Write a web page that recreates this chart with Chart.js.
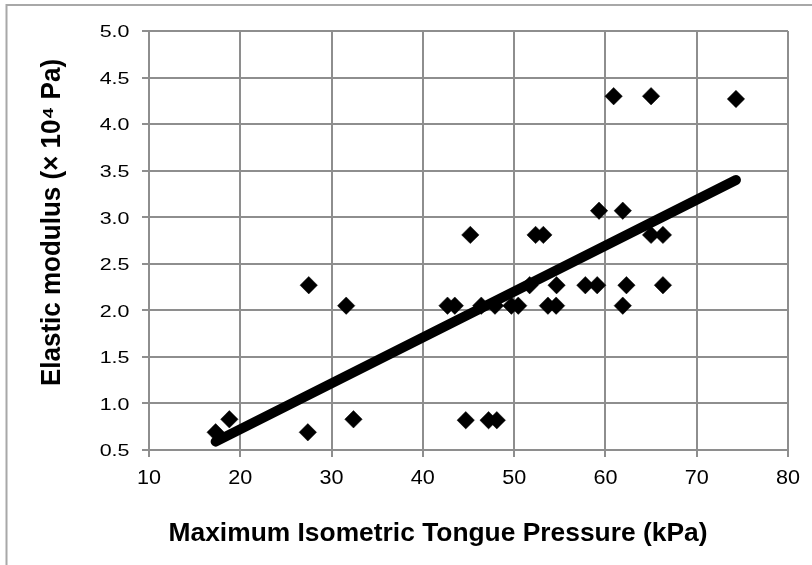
<!DOCTYPE html>
<html>
<head>
<meta charset="utf-8">
<script src="https://cdn.jsdelivr.net/npm/chart.js@4.4.1/dist/chart.umd.min.js"></script>
<style>
html,body{margin:0;padding:0;background:#fff;}
#wrap{width:812px;height:565px;position:relative;overflow:hidden;}
canvas{display:block;}
</style>
</head>
<body>
<div id="wrap"><canvas id="c" width="812" height="565" style="width:812px;height:565px;"></canvas></div>
<script>
// ---- data ----
const pressureKPa = [17.3, 18.8, 27.4, 27.5, 31.6, 32.4, 42.7, 43.5, 44.7, 45.2, 46.4, 47.2, 47.9, 48.1, 49.7, 50.45, 51.7, 52.35, 53.2, 53.7, 54.6, 54.65, 57.8, 59.1, 59.3, 60.9, 61.9, 61.9, 62.3, 65.0, 65.0, 66.3, 66.3, 74.3];
const elasticModulus = [0.69, 0.83, 0.69, 2.27, 2.05, 0.83, 2.05, 2.05, 0.82, 2.81, 2.05, 0.82, 2.05, 0.82, 2.05, 2.05, 2.27, 2.81, 2.81, 2.05, 2.05, 2.27, 2.27, 2.27, 3.07, 4.30, 3.07, 2.05, 2.27, 4.30, 2.81, 2.81, 2.27, 4.27];
const trendX = [17.3, 74.3];
const trendY = [0.59, 3.40];
const xTickLabels = ['10', '20', '30', '40', '50', '60', '70', '80'];
const yTickLabels = ['0.5', '1.0', '1.5', '2.0', '2.5', '3.0', '3.5', '4.0', '4.5', '5.0'];
const xTitle = 'Maximum Isometric Tongue Pressure (kPa)';
const yTitle = 'Elastic modulus (× 10⁴ Pa)';

const FONT = "'Liberation Sans', Arial, Helvetica, sans-serif";
const GRID = '#8e8e8e';

const scatterPts = pressureKPa.map((x, i) => ({x: x, y: elasticModulus[i]}));
const trendPts = trendX.map((x, i) => ({x: x, y: trendY[i]}));

const textPlugin = {
  id: 'texts',
  beforeDraw(chart) {
    const ctx = chart.ctx;
    ctx.save();
    ctx.strokeStyle = '#a8a8a8';
    ctx.lineWidth = 2;
    ctx.beginPath();
    ctx.moveTo(6.5, 900);
    ctx.lineTo(6.5, 5);
    ctx.lineTo(900, 5);
    ctx.stroke();
    ctx.restore();
  },
  afterDraw(chart) {
    const ctx = chart.ctx;
    const xs = chart.scales.x, ys = chart.scales.y;
    ctx.save();
    ctx.fillStyle = '#000';
    // y tick labels
    ctx.font = '16.5px ' + FONT;
    ctx.textAlign = 'right';
    ctx.textBaseline = 'alphabetic';
    yTickLabels.forEach(l => {
      const py = ys.getPixelForValue(parseFloat(l));
      ctx.save();
      ctx.translate(129.5, py + 6.3);
      ctx.scale(1.3, 1);
      ctx.fillText(l, 0, 0);
      ctx.restore();
    });
    // x tick labels
    ctx.font = '20px ' + FONT;
    ctx.textAlign = 'center';
    xTickLabels.forEach(l => {
      const px = xs.getPixelForValue(parseFloat(l));
      ctx.save();
      ctx.translate(px, 484);
      ctx.scale(1.08, 1);
      ctx.fillText(l, 0, 0);
      ctx.restore();
    });
    // x title
    ctx.font = 'bold 25px ' + FONT;
    ctx.save();
    ctx.translate(438, 541);
    ctx.scale(1.055, 1);
    ctx.fillText(xTitle, 0, 0);
    ctx.restore();
    // y title
    ctx.font = 'bold 26px ' + FONT;
    ctx.save();
    ctx.translate(60, 222.5);
    ctx.rotate(-Math.PI / 2);
    ctx.scale(1, 1.07);
    ctx.fillText(yTitle, 0, 0);
    ctx.restore();
    ctx.restore();
  }
};

new Chart(document.getElementById('c'), {
  type: 'scatter',
  data: {
    datasets: [
      {
        label: 'Trend',
        data: trendPts,
        showLine: true,
        borderColor: '#000',
        borderWidth: 10,
        borderCapStyle: 'round',
        pointRadius: 0,
        fill: false,
        order: 0
      },
      {
        label: 'Measured',
        data: scatterPts,
        showLine: false,
        pointStyle: 'rectRot',
        pointRadius: 8.7,
        backgroundColor: '#000',
        borderColor: '#000',
        borderWidth: 0.5,
        order: 1
      }
    ]
  },
  options: {
    responsive: false,
    animation: false,
    devicePixelRatio: 1,
    layout: {padding: {left: 0, top: 31, right: 24, bottom: 0}},
    plugins: {legend: {display: false}, tooltip: {enabled: false}, title: {display: false}},
    scales: {
      x: {
        type: 'linear',
        min: 10, max: 80,
        ticks: {stepSize: 10, display: false},
        grid: {color: GRID, lineWidth: 2, drawTicks: true, tickLength: 7},
        border: {color: GRID, width: 2},
        afterFit(s) { s.height = 115; }
      },
      y: {
        type: 'linear',
        min: 0.5, max: 5.0,
        ticks: {stepSize: 0.5, display: false},
        grid: {color: GRID, lineWidth: 2, drawTicks: true, tickLength: 7},
        border: {color: GRID, width: 2},
        afterFit(s) { s.width = 149; }
      }
    }
  },
  plugins: [textPlugin]
});
</script>
</body>
</html>
